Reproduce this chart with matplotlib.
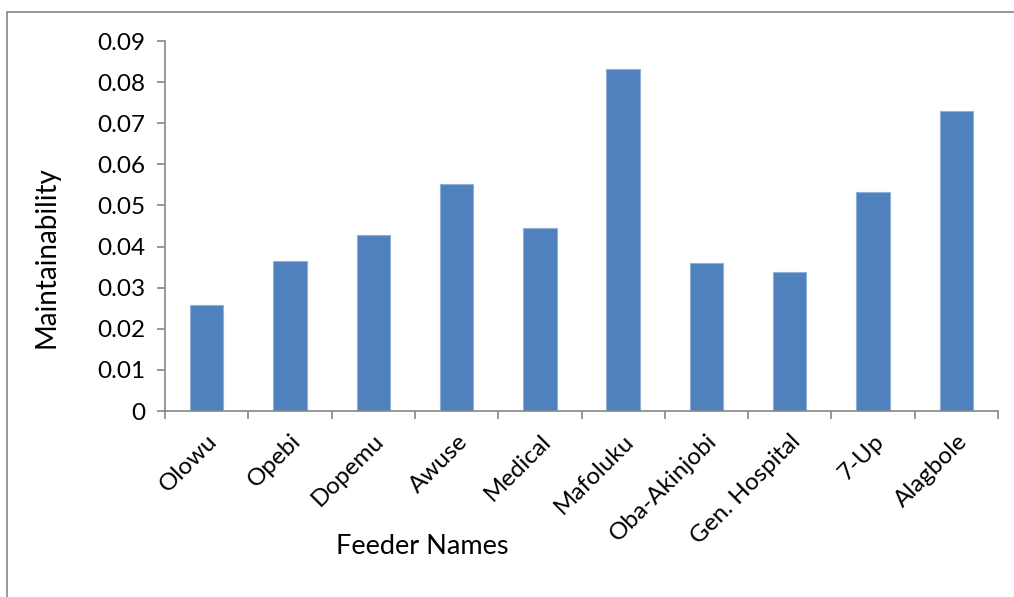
import matplotlib
matplotlib.use("Agg")
import matplotlib.pyplot as plt
from matplotlib.patches import Rectangle
import numpy as np

feeders = ["Olowu", "Opebi", "Dopemu", "Awuse", "Medical", "Mafoluku",
           "Oba-Akinjobi", "Gen. Hospital", "7-Up", "Alagbole"]
maintainability = [0.0259, 0.0365, 0.0428, 0.0553, 0.0444, 0.0833,
                   0.0361, 0.0337, 0.0532, 0.0730]
yticks = [0, 0.01, 0.02, 0.03, 0.04, 0.05, 0.06, 0.07, 0.08, 0.09]
ytick_labels = ["0", "0.01", "0.02", "0.03", "0.04", "0.05", "0.06", "0.07", "0.08", "0.09"]

plt.rcParams['font.family'] = ['Lato', 'DejaVu Sans']

fig = plt.figure(figsize=(10.14, 5.97), dpi=100)
ax = fig.add_axes([165/1014, 1-411/597, (998-165)/1014, (411-41)/597])

x = np.arange(len(feeders))
ax.bar(x, maintainability, width=0.4, color="#4F81BD", edgecolor="#8FB0D8", linewidth=0.8, zorder=2)

ax.set_xlim(-0.5, len(feeders) - 0.5)
ax.set_ylim(0, 0.09)
ax.set_yticks(yticks)
ax.set_yticklabels(ytick_labels, fontsize=17.5)

ax.set_xticks(x)
ax.set_xticklabels(feeders, rotation=45, ha="right", rotation_mode="anchor", fontsize=17.5)
ax.tick_params(axis="x", which="major", length=0, pad=14)
ax.set_xticks(np.arange(-0.5, len(feeders)), minor=True)
ax.tick_params(axis="x", which="minor", length=6, color="#868686", width=1.2, direction="out")
ax.tick_params(axis="y", length=6, color="#868686", width=1.2, direction="out", pad=8)

for s in ["top", "right"]:
    ax.spines[s].set_visible(False)
for s in ["left", "bottom"]:
    ax.spines[s].set_color("#868686")
    ax.spines[s].set_linewidth(1.2)

fig.text(422/1014, 1-546/597, "Feeder Names", ha="center", va="center", fontsize=19.5)
fig.text(47/1014, 1-257/597, "Maintainability", ha="center", va="center", rotation=90, fontsize=20)

fig.patches.append(Rectangle((7/1014, -0.05), 1.1, 1-12/597+0.05, transform=fig.transFigure,
                             fill=False, edgecolor="#868686", linewidth=1.2))

fig.savefig("out.png", dpi=100)
